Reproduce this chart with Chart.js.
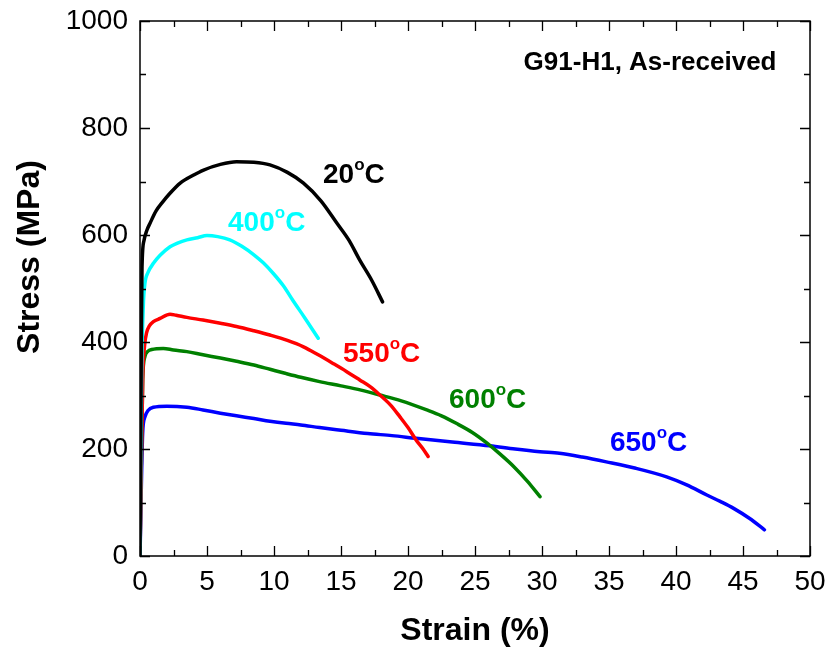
<!DOCTYPE html>
<html>
<head>
<meta charset="utf-8">
<title>G91-H1 tensile curves</title>
<script src="https://cdn.jsdelivr.net/npm/chart.js@4.4.1/dist/chart.umd.min.js"></script>
<style>
    html, body { margin: 0; padding: 0; background: #ffffff; }
    #wrap { width: 833px; height: 650px; }
</style>
</head>
<body>
<div id="wrap"><canvas id="tensileChart" width="833" height="650"></canvas></div>
<script>
// Stress-strain curves, G91-H1 as-received

// Strain (%) and stress (MPa) per test temperature
const strain20 = [0, 0.1, 0.15, 0.3, 0.5, 0.75, 1.2, 1.7, 2.24, 3, 4, 4.7, 6, 7.2, 8.5, 9.7, 11, 12.2, 13.5, 14.7, 15.6, 16.4, 17.3, 18.1];
const stress20 = [0, 400, 540, 590, 608, 622, 645, 662, 678, 697, 712, 721, 732, 737, 736, 731, 717, 697, 664, 622, 590, 553, 515, 475];

const strain400 = [0, 0.12, 0.25, 0.37, 0.6, 1.0, 1.5, 2.24, 2.8, 3.5, 4.3, 5.0, 5.8, 6.7, 7.6, 8.5, 9.2, 9.95, 10.7, 11.4, 12.3, 13.3];
const stress400 = [0, 340, 470, 510, 530, 547, 562, 578, 585, 591, 595, 599, 597, 591, 579, 563, 548, 528, 505, 478, 445, 407];

const strain550 = [0, 0.2, 0.35, 0.5, 0.7, 1.0, 1.5, 2.24, 2.7, 3.5, 4.7, 6, 7.2, 8.5, 9.7, 11, 12.2, 13.3, 14.4, 15.4, 16.4, 17.2, 17.9, 18.7, 19.4, 20.0, 20.6, 21.1, 21.5];
const stress550 = [0, 330, 395, 418, 430, 438, 444, 452, 450, 446, 441, 435, 429, 421, 413, 403, 391, 376, 360, 345, 329, 316, 301, 282, 260, 240, 217, 201, 186];

const strain600 = [0, 0.2, 0.37, 0.6, 0.87, 1.74, 2.5, 3.5, 4.7, 6, 7.2, 8.5, 9.7, 10.9, 12, 13.4, 15, 16.5, 17.9, 19.5, 21.4, 22.5, 23.6, 24.8, 25.9, 26.9, 27.9, 28.9, 29.85];
const stress600 = [0, 330, 373, 383, 386, 388, 385, 382, 376, 370, 364, 357, 349, 341, 334, 326, 318, 310, 301, 290, 273, 262, 248, 231, 211, 190, 167, 140, 111];

const strain650 = [0, 0.2, 0.37, 0.6, 1.0, 2.0, 3.5, 4.7, 6, 7.2, 8.5, 9.7, 10.9, 12, 13.4, 15, 17, 18.8, 20.6, 23.3, 26.1, 28, 29.85, 31.3, 33, 34.8, 37, 39.3, 40.8, 42.3, 43.3, 44.3, 45.5, 46.6];
const stress650 = [0, 230, 260, 272, 278, 280, 278, 273, 267, 262, 257, 252, 248, 245, 240, 235, 229, 225, 220, 213, 206, 200, 195, 192, 185, 176, 164, 148, 133, 114, 102, 89, 70, 49];

// Axis ticks
const strainTicks = [0, 5, 10, 15, 20, 25, 30, 35, 40, 45, 50];
const stressTicks = [0, 200, 400, 600, 800, 1000];

// Curve labels: number, colour, anchor (strain, stress at baseline)
const curveNames = ['20', '400', '550', '600', '650'];
const curveColors = ['#000000', '#00ffff', '#ff0000', '#008000', '#0000ff'];
const labelStrain = [13.66, 6.57, 15.15, 23.06, 35.07];
const labelStress = [697, 608, 363, 277, 196];

const FONT = '"Liberation Sans", Arial, Helvetica, sans-serif';

function toPoints(xs, ys) {
    return xs.map((x, i) => ({ x: x, y: ys[i] }));
}

function makeDataset(name, xs, ys, color) {
    return {
        label: name + '°C',
        data: toPoints(xs, ys),
        borderColor: color,
        backgroundColor: color,
        borderWidth: 3.5,
        borderJoinStyle: 'round',
        borderCapStyle: 'round',
        pointRadius: 0,
        fill: false,
        cubicInterpolationMode: 'monotone'
    };
}

// Frame on all four sides with inward major/minor ticks
const frameTicksPlugin = {
    id: 'frameTicks',
    afterDatasetsDraw(chart) {
        const ctx = chart.ctx;
        const area = chart.chartArea;
        const xs = chart.scales.x;
        const ys = chart.scales.y;
        ctx.save();
        ctx.strokeStyle = '#000000';
        ctx.lineWidth = 1.5;
        ctx.strokeRect(area.left, area.top, area.right - area.left, area.bottom - area.top);

        ctx.lineWidth = 1.3;
        ctx.beginPath();
        for (let v = 0; v <= 50; v += 2.5) {
            const px = Math.round(xs.getPixelForValue(v)) + 0.5;
            const len = (v % 5 === 0) ? 10 : 6;
            ctx.moveTo(px, area.bottom);
            ctx.lineTo(px, area.bottom - len);
            ctx.moveTo(px, area.top);
            ctx.lineTo(px, area.top + len);
        }
        for (let v = 0; v <= 1000; v += 100) {
            const py = Math.round(ys.getPixelForValue(v)) + 0.5;
            const len = (v % 200 === 0) ? 10 : 6;
            ctx.moveTo(area.left, py);
            ctx.lineTo(area.left + len, py);
            ctx.moveTo(area.right, py);
            ctx.lineTo(area.right - len, py);
        }
        ctx.stroke();
        ctx.restore();
    }
};

// Text annotations: curve temperatures, specimen note, y axis title
const annotationPlugin = {
    id: 'annotations',
    afterDraw(chart) {
        const ctx = chart.ctx;
        const xs = chart.scales.x;
        const ys = chart.scales.y;
        ctx.save();
        ctx.textBaseline = 'alphabetic';
        ctx.textAlign = 'left';

        curveNames.forEach((name, i) => {
            let px = xs.getPixelForValue(labelStrain[i]);
            const py = ys.getPixelForValue(labelStress[i]);
            ctx.fillStyle = curveColors[i];
            ctx.font = 'bold 28px ' + FONT;
            ctx.fillText(name, px, py);
            px += ctx.measureText(name).width;
            ctx.font = 'bold 17px ' + FONT;
            ctx.fillText('o', px, py - 13);
            px += ctx.measureText('o').width;
            ctx.font = 'bold 28px ' + FONT;
            ctx.fillText('C', px, py);
        });

        ctx.fillStyle = '#000000';
        ctx.font = 'bold 26px ' + FONT;
        ctx.textAlign = 'right';
        ctx.fillText('G91-H1, As-received', xs.getPixelForValue(47.5), ys.getPixelForValue(908));

        // y axis title
        ctx.translate(30, 257);
        ctx.rotate(-Math.PI / 2);
        ctx.textAlign = 'center';
        ctx.textBaseline = 'middle';
        ctx.font = 'bold 32px ' + FONT;
        ctx.fillText('Stress (MPa)', 0, 0);
        ctx.restore();
    }
};

function initTensileChart() {
    const canvas = document.getElementById('tensileChart');
    if (!canvas) return;

    new Chart(canvas, {
        type: 'line',
        data: {
            datasets: [
                makeDataset(curveNames[0], strain20, stress20, curveColors[0]),
                makeDataset(curveNames[1], strain400, stress400, curveColors[1]),
                makeDataset(curveNames[2], strain550, stress550, curveColors[2]),
                makeDataset(curveNames[3], strain600, stress600, curveColors[3]),
                makeDataset(curveNames[4], strain650, stress650, curveColors[4])
            ]
        },
        options: {
            responsive: false,
            animation: false,
            devicePixelRatio: 1,
            layout: { padding: { top: 21, right: 23, left: 0, bottom: 0 } },
            plugins: {
                legend: { display: false },
                tooltip: { enabled: false }
            },
            scales: {
                x: {
                    type: 'linear',
                    min: 0,
                    max: 50,
                    afterFit: (scale) => {
                        scale.height = 94;
                        scale.paddingLeft = 0;
                        scale.paddingRight = 0;
                    },
                    afterBuildTicks: (scale) => {
                        scale.ticks = strainTicks.map(v => ({ value: v }));
                    },
                    grid: { display: false, drawTicks: false },
                    border: { display: false },
                    ticks: {
                        color: '#000000',
                        padding: 9,
                        maxRotation: 0,
                        font: { family: FONT, size: 28 },
                        callback: (v) => String(v)
                    },
                    title: {
                        display: true,
                        text: 'Strain (%)',
                        color: '#000000',
                        font: { family: FONT, size: 32, weight: 'bold' },
                        padding: { top: 0, bottom: 0 }
                    }
                },
                y: {
                    type: 'linear',
                    min: 0,
                    max: 1000,
                    afterFit: (scale) => {
                        scale.width = 140;
                        scale.paddingTop = 0;
                        scale.paddingBottom = 0;
                    },
                    afterBuildTicks: (scale) => {
                        scale.ticks = stressTicks.map(v => ({ value: v }));
                    },
                    grid: { display: false, drawTicks: false },
                    border: { display: false },
                    ticks: {
                        color: '#000000',
                        padding: 12,
                        font: { family: FONT, size: 28 },
                        callback: (v) => String(v)
                    }
                }
            }
        },
        plugins: [frameTicksPlugin, annotationPlugin]
    });
}

document.addEventListener('DOMContentLoaded', initTensileChart);
</script>
</body>
</html>
